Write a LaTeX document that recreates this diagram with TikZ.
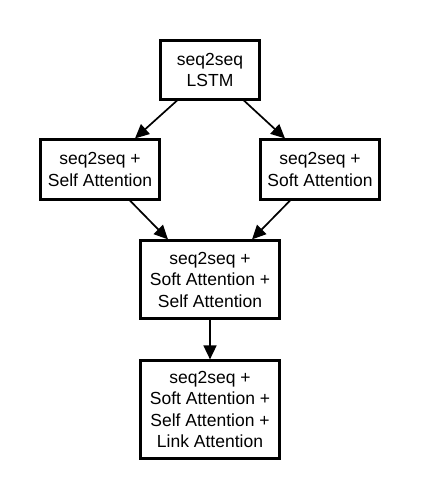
\documentclass[tikz,border=0pt]{standalone}
\usepackage{fontspec}
\setmainfont{Liberation Sans}
\usetikzlibrary{arrows.meta}

\tikzset{
	box/.style={draw, line width=2.2pt, align=center, inner sep=0pt,
		font=\fontsize{17.5}{21.5}\selectfont},
	arr/.style={line width=1.7pt, -{Triangle[length=14pt, width=13pt]}}
}

\begin{document}
\begin{tikzpicture}[x=1pt, y=1pt]

% frame %{{{2

	\useasboundingbox (0,0) rectangle (420,-500);

% boxes %{{{2

	\node[box, minimum width=99pt, minimum height=59pt] (lstm) at (210,-70)
		{seq2seq\\LSTM};
	\node[box, minimum width=119pt, minimum height=60pt] (self) at (100,-169.5)
		{seq2seq +\\Self Attention};
	\node[box, minimum width=119pt, minimum height=60pt] (soft) at (320,-169.5)
		{seq2seq +\\Soft Attention};
	\node[box, minimum width=139pt, minimum height=78pt] (softself) at (210,-279.5)
		{seq2seq +\\Soft Attention +\\Self Attention};
	\node[box, minimum width=139pt, minimum height=98pt] (link) at (210,-409.5)
		{seq2seq +\\Soft Attention +\\Self Attention +\\Link Attention};

% arrows %{{{2

	\draw[arr] ([xshift=-33pt]lstm.south) -- ([xshift=35pt]self.north);
	\draw[arr] ([xshift=34pt]lstm.south) -- ([xshift=-35pt]soft.north);
	\draw[arr] ([xshift=30pt]self.south) -- ([xshift=-42pt]softself.north);
	\draw[arr] ([xshift=-30pt]soft.south) -- ([xshift=42pt]softself.north);
	\draw[arr] (softself.south) -- (link.north);

% closing %{{{2

\end{tikzpicture}
\end{document}
